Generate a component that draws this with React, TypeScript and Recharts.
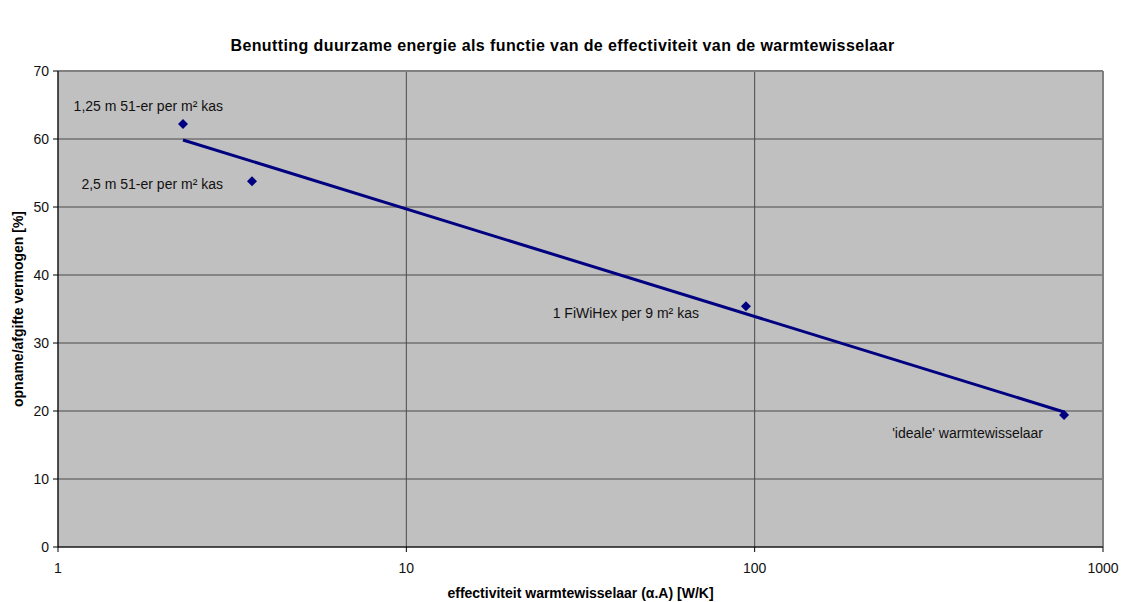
import { CartesianGrid, Label, ReferenceLine, Scatter, ScatterChart, XAxis, YAxis } from 'recharts'

// measured points
const POINT_X = [2.285, 3.605, 94.4, 773]
const POINT_Y = [62.2, 53.8, 35.4, 19.4]
const POINT_NAMES = [
  '1,25 m 51-er per m² kas',
  '2,5 m 51-er per m² kas',
  '1 FiWiHex per 9 m² kas',
  "'ideale' warmtewisselaar",
]

// trend line (straight on the log axis)
const TREND_X = [2.285, 773]
const TREND_Y = [59.85, 19.85]

const X_TICKS = [1, 10, 100, 1000]
const Y_TICKS = [0, 10, 20, 30, 40, 50, 60, 70]

// label placement relative to each point (text anchored at its end)
const LABEL_OFFSETS = [
  { dx: 40, dy: -13 },
  { dx: -29, dy: 8 },
  { dx: -47, dy: 12 },
  { dx: -21, dy: 23 },
]

const points = POINT_X.map((x, i) => ({ x, y: POINT_Y[i], name: POINT_NAMES[i], idx: i }))
const trend = TREND_X.map((x, i) => ({ x, y: TREND_Y[i] }))

const NAVY = '#000080'
const FONT = '"Liberation Sans", Arial, sans-serif'

function Marker(props: any) {
  const { cx, cy, payload } = props
  if (cx == null || cy == null) return <g />
  const o = LABEL_OFFSETS[payload.idx]
  const r = 5
  return (
    <g>
      <polygon points={`${cx},${cy - r} ${cx + r},${cy} ${cx},${cy + r} ${cx - r},${cy}`} fill={NAVY} />
      <text x={cx + o.dx} y={cy + o.dy} textAnchor="end" fontSize={14} fill="#111">
        {payload.name}
      </text>
    </g>
  )
}

export default function App() {
  return (
    <div style={{ position: 'absolute', left: 0, top: 0, width: 1125, height: 602, background: '#fff', fontFamily: FONT }}>
      <div
        style={{
          position: 'absolute',
          left: 0,
          top: 37,
          width: 1125,
          textAlign: 'center',
          fontSize: 16,
          letterSpacing: 0.4,
          fontWeight: 'bold',
          color: '#000',
        }}
      >
        Benutting duurzame energie als functie van de effectiviteit van de warmtewisselaar
      </div>
      <ScatterChart width={1125} height={602} margin={{ top: 71, right: 22, bottom: 0, left: 0 }}>
        <CartesianGrid fill="#C0C0C0" stroke="#4a4a4a" strokeWidth={1} />
        <ReferenceLine y={70} stroke="#808080" strokeWidth={2} />
        <ReferenceLine x={1000} stroke="#808080" strokeWidth={2} />
        <XAxis
          type="number"
          dataKey="x"
          scale="log"
          domain={[1, 1000]}
          ticks={X_TICKS}
          allowDataOverflow
          height={55}
          tickSize={5}
          tickMargin={11}
          tick={{ fontSize: 14, fill: '#111' }}
          axisLine={{ stroke: '#000' }}
          tickLine={{ stroke: '#000' }}
        >
          <Label
            value="effectiviteit warmtewisselaar (α.A) [W/K]"
            position="center"
            dy={19}
            style={{ fontSize: 14, fontWeight: 'bold', fill: '#000' }}
          />
        </XAxis>
        <YAxis
          type="number"
          dataKey="y"
          domain={[0, 70]}
          ticks={Y_TICKS}
          width={58}
          tickSize={5}
          tickMargin={4}
          tick={{ fontSize: 14, fill: '#111' }}
          axisLine={{ stroke: '#000' }}
          tickLine={{ stroke: '#000' }}
        >
          <Label
            value="opname/afgifte vermogen [%]"
            angle={-90}
            position="center"
            dx={-11}
            style={{ fontSize: 14, fontWeight: 'bold', fill: '#000', textAnchor: 'middle' }}
          />
        </YAxis>
        <Scatter
          data={trend}
          line={{ stroke: NAVY, strokeWidth: 3 }}
          shape={() => <g />}
          isAnimationActive={false}
        />
        <Scatter data={points} shape={Marker} isAnimationActive={false} />
      </ScatterChart>
    </div>
  )
}
